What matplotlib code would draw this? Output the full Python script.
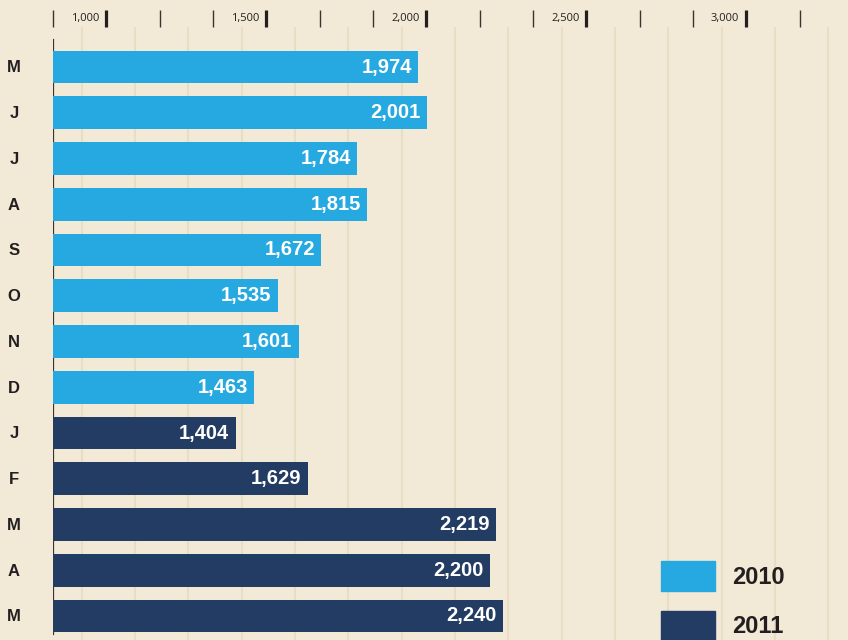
import matplotlib
matplotlib.use("Agg")
import matplotlib.pyplot as plt
import matplotlib.patches as mpatches
import matplotlib.transforms as mtransforms
import numpy as np

months = ["M", "J", "J", "A", "S", "O", "N", "D", "J", "F", "M", "A", "M"]
values = [1974, 2001, 1784, 1815, 1672, 1535, 1601, 1463, 1404, 1629, 2219, 2200, 2240]
years = [2010] * 8 + [2011] * 5
major_ticks = [1000, 1500, 2000, 2500, 3000]
tick_labels = ["1,000", "1,500", "2,000", "2,500", "3,000"]

BG = "#f2ead6"
GRID = "#e8dec3"
C2010 = "#26a9e0"
C2011 = "#233c63"
DARK = "#231f20"
colors = {2010: C2010, 2011: C2011}

W, H = 848, 640
fig = plt.figure(figsize=(W / 100, H / 100), dpi=100, facecolor=BG)
ax_left, ax_top = 53, 27
ax = fig.add_axes([ax_left / W, 0, 1 - ax_left / W, 1 - ax_top / H])
ax.set_facecolor(BG)

step = 500 / 3.0
xmin = major_ticks[0] - step
xmax = xmin + (W - ax_left) / 0.32
ax.set_xlim(xmin, xmax)

n = len(values)
row_px = 45.75
top_lim = -(67 - ax_top) / row_px
bot_lim = (n - 1) + (H - 616) / row_px
ax.set_ylim(bot_lim, top_lim)

ypos = np.arange(n)
bars = ax.barh(ypos, [v - xmin for v in values], left=xmin, height=0.72,
               color=[colors[y] for y in years], zorder=3)

# grid lines (offset from ticks)
minor_ticks = [xmin + step * k for k in range(20) if xmin + step * k < xmax]
for t in minor_ticks:
    ax.axvline(t + 90, color=GRID, lw=1.5, zorder=1)

# left axis line
ax.axvline(xmin, ymin=(H - 634) / (H - ax_top), ymax=1 - (40 - ax_top) / (H - ax_top),
           color="#3a3430", lw=1.6, zorder=2)

# ticks on top
ax.xaxis.set_ticks_position("top")
ax.set_xticks(major_ticks)
ax.set_xticks([t for t in minor_ticks if all(abs(t - m) > 1 for m in major_ticks)], minor=True)
ax.tick_params(axis="x", which="major", direction="out", length=12.3, width=2.3,
               color=DARK, labeltop=False, labelbottom=False)
ax.tick_params(axis="x", which="minor", direction="out", length=12.3, width=1.0,
               color="#3a3430", labeltop=False, labelbottom=False)
ax.set_yticks([])
for s in ax.spines.values():
    s.set_visible(False)

trans = mtransforms.blended_transform_factory(ax.transData, fig.transFigure)
for t, lab in zip(major_ticks, tick_labels):
    ax.text(t, 1 - 18 / H, lab, transform=trans + mtransforms.ScaledTranslation(-7 / 100, 0, fig.dpi_scale_trans),
            ha="right", va="center", fontsize=8, family="Open Sans", color=DARK, clip_on=False)

# month labels
ytrans = mtransforms.blended_transform_factory(fig.transFigure, ax.transData)
for i, m in enumerate(months):
    ax.text(14 / W, i + 0.02, m, transform=ytrans, ha="center", va="center",
            fontsize=12, fontweight="bold", family="Liberation Sans", color=DARK, clip_on=False)

# value labels
for i, v in enumerate(values):
    ax.annotate(f"{v:,}", xy=(v, i), xytext=(-4.5, 0), textcoords="offset points",
                ha="right", va="center", fontsize=14.5, fontweight="bold",
                family="Liberation Sans", color="white", zorder=4)

# legend
handles = [mpatches.Patch(color=C2010, label="2010"), mpatches.Patch(color=C2011, label="2011")]
leg = ax.legend(handles=handles, loc="upper left", bbox_to_anchor=(661 / W, 1 - 561 / H),
                bbox_transform=fig.transFigure, frameon=False, borderpad=0, borderaxespad=0,
                handlelength=2.3, handleheight=1.55, handletextpad=0.7, labelspacing=0.85,
                prop={"family": "Liberation Sans", "weight": "bold", "size": 17})
for t in leg.get_texts():
    t.set_color(DARK)

fig.savefig("out.png", dpi=100, facecolor=BG)
